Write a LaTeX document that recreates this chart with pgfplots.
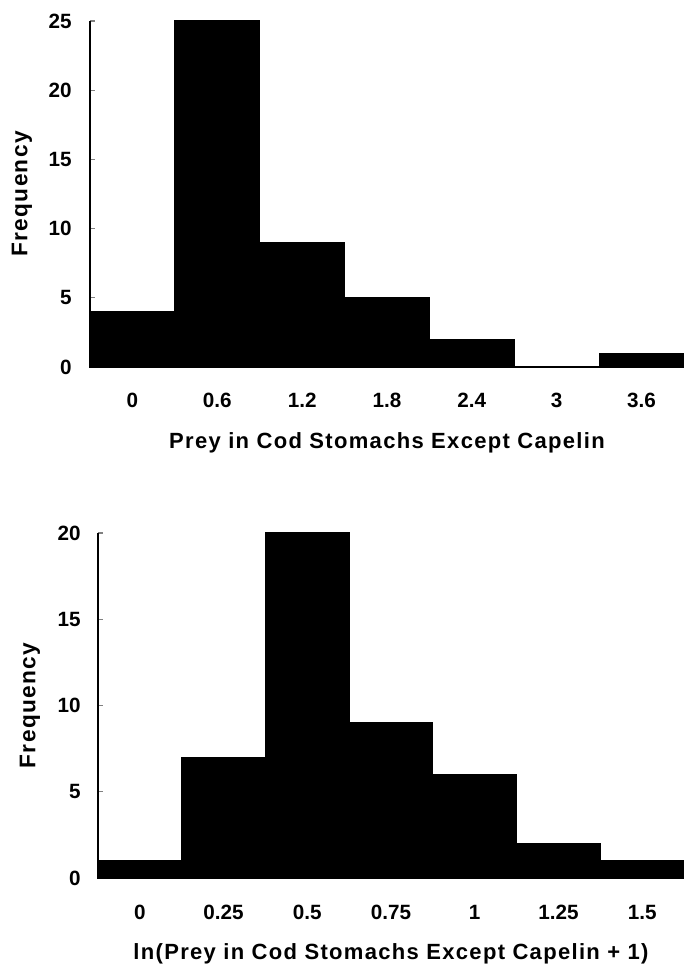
\documentclass[border=0pt]{standalone}
\usepackage{fontspec}
\setmainfont{Liberation Sans}
\newfontfamily\ylblfont[LetterSpace=6]{Liberation Sans}
\newfontfamily\xlblfont[LetterSpace=6]{Liberation Sans}
\usepackage{pgfplots}
\pgfplotsset{compat=1.18}
\pgfplotsset{
  histo/.style={
    scale only axis,
    axis lines*=left,
    x axis line style={draw=none},
    y axis line style={line width=1pt},
    tick align=inside,
    major tick length=3.75pt,
    ytick style={line width=1pt},
    xtick style={draw=none},
    ymin=0,
    /pgf/number format/assume math mode=true,
    ticklabel style={font=\fontsize{15.5}{18}\selectfont\bfseries},
    every axis y label/.style={at={(axis description cs:0,0.5)}, xshift=-51pt, rotate=90, anchor=center, font=\ylblfont\fontsize{17}{20}\selectfont\bfseries},
    every axis x label/.style={at={(axis description cs:0.5,0)}, anchor=base, yshift=-61pt, inner sep=0pt, font=\xlblfont\fontsize{16.5}{20}\selectfont\bfseries},
    clip=false,
  }
}
\begin{document}
\begin{tikzpicture}
\path[use as bounding box] (0,0) rectangle (513pt,726.75pt);
% top histogram
\begin{axis}[histo,
  at={(67.5pt,451.5pt)}, anchor=south west,
  width=445.5pt, height=259.5pt,
  xmin=-0.3, xmax=3.9, ymax=25,
  ytick={0,5,10,15,20,25},
  xtick={0,0.6,1.2,1.8,2.4,3,3.6},
  xticklabels={0,0.6,1.2,1.8,2.4,3,3.6},
  yticklabel style={anchor=east, inner sep=0pt, xshift=-13.5pt},
  xticklabel style={anchor=north, inner sep=0pt, yshift=-19.5pt},
  ylabel={Frequency},
  xlabel={Prey in Cod Stomachs Except Capelin},
]
\addplot[ybar interval, fill=black, draw=black, line width=0.8pt]
  coordinates {(-0.3,4) (0.3,25) (0.9,9) (1.5,5) (2.1,2) (2.7,0) (3.3,1) (3.9,1)};
\end{axis}
% bottom histogram
\begin{axis}[histo,
  at={(73.5pt,68.25pt)}, anchor=south west,
  width=439.5pt, height=258.75pt,
  xmin=-0.125, xmax=1.625, ymax=20,
  ytick={0,5,10,15,20},
  xtick={0,0.25,0.5,0.75,1,1.25,1.5},
  xticklabels={0,0.25,0.5,0.75,1,1.25,1.5},
  yticklabel style={anchor=east, inner sep=0pt, xshift=-12.75pt},
  xticklabel style={anchor=north, inner sep=0pt, yshift=-20.25pt},
  ylabel={Frequency},
  xlabel={ln(Prey in Cod Stomachs Except Capelin + 1)},
]
\addplot[ybar interval, fill=black, draw=black, line width=0.8pt]
  coordinates {(-0.125,1) (0.125,7) (0.375,20) (0.625,9) (0.875,6) (1.125,2) (1.375,1) (1.625,1)};
\end{axis}
\end{tikzpicture}
\end{document}
